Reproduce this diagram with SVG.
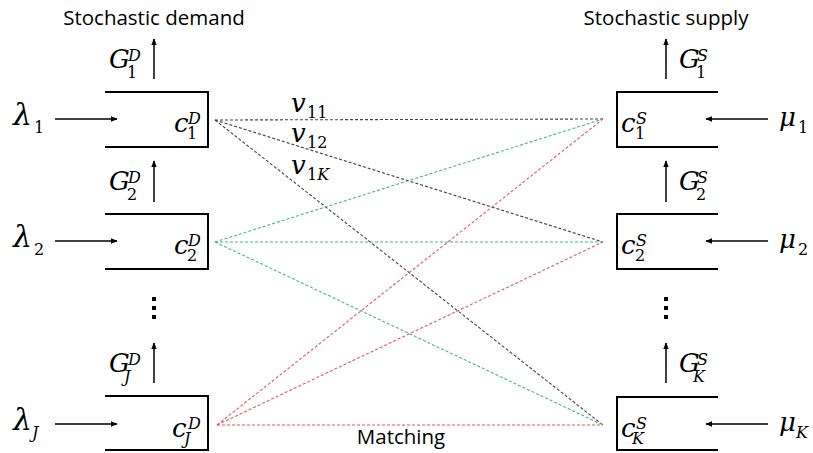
<svg xmlns="http://www.w3.org/2000/svg" width="813" height="453" viewBox="0 0 813 453">
<defs>
<marker id="ah" viewBox="0 0 10 10" refX="9" refY="5" markerWidth="7" markerHeight="7" markerUnits="userSpaceOnUse" orient="auto">
<path d="M0,1 L10,5 L0,9 Z" fill="#000"/>
</marker>
<style>
.box{fill:none;stroke:#000;stroke-width:2}
.arr{stroke:#000;stroke-width:1.5;fill:none;marker-end:url(#ah)}
.m{font-family:"DejaVu Serif","Liberation Serif",serif;font-style:italic;font-size:26px;fill:#000}
.l{font-size:30px}
.n{font-family:"DejaVu Serif","Liberation Serif",serif;font-style:normal;font-size:16px;fill:#000}
.s{font-family:"DejaVu Serif","Liberation Serif",serif;font-style:italic;font-size:16px;fill:#000}
.t{font-family:"Open Sans","Liberation Sans",sans-serif;font-size:20.5px;fill:#000}
.dash{fill:none;stroke-width:1.1;stroke-dasharray:3 2}
.k{stroke:#444}
.g{stroke:#3fb884}
.r{stroke:#e05a5a}
.dot{fill:#000}
</style>
</defs>

<text class="t" x="154" y="25" text-anchor="middle">Stochastic demand</text>
<text class="t" x="666" y="25" text-anchor="middle">Stochastic supply</text>

<g id="connectors">
<line class="dash k" x1="215" y1="120" x2="603" y2="119"/>
<line class="dash k" x1="215" y1="120" x2="603" y2="242"/>
<line class="dash k" x1="215" y1="120" x2="603" y2="425"/>
<line class="dash g" x1="215" y1="242" x2="603" y2="119"/>
<line class="dash g" x1="215" y1="242" x2="603" y2="242"/>
<line class="dash g" x1="215" y1="242" x2="603" y2="425"/>
<line class="dash r" x1="217" y1="425" x2="603" y2="119"/>
<line class="dash r" x1="217" y1="425" x2="603" y2="242"/>
<line class="dash r" x1="217" y1="425" x2="603" y2="425"/>
<text class="m" x="291" y="112">v</text><text class="n" x="307" y="118">11</text>
<text class="m" x="291" y="142">v</text><text class="n" x="307" y="148">12</text>
<text class="m" x="291" y="174">v</text><text class="n" x="307" y="180">1<tspan class="s">K</tspan></text>
<text class="t" x="401" y="444" text-anchor="middle">Matching</text>
</g>

<g id="demand1">
<path class="box" d="M105,92 H208 V147 H105"/>
<line class="arr" x1="55" y1="119" x2="117" y2="119"/>
<line class="arr" x1="154" y1="79" x2="154" y2="39"/>
<text class="m l" x="13" y="125">λ</text><text class="n" x="34" y="133">1</text>
<text class="m" x="109" y="68">G</text><text class="s" x="128" y="61">D</text><text class="n" x="127" y="78">1</text>
<text class="m" x="174" y="132">c</text><text class="s" x="188" y="124">D</text><text class="n" x="187" y="139">1</text>
</g>

<g id="demand2">
<path class="box" d="M105,214 H208 V269 H105"/>
<line class="arr" x1="55" y1="241" x2="117" y2="241"/>
<line class="arr" x1="154" y1="202" x2="154" y2="161"/>
<text class="m l" x="13" y="247">λ</text><text class="n" x="34" y="255">2</text>
<text class="m" x="109" y="190">G</text><text class="s" x="128" y="183">D</text><text class="n" x="127" y="200">2</text>
<text class="m" x="174" y="254">c</text><text class="s" x="188" y="246">D</text><text class="n" x="187" y="261">2</text>
</g>

<g id="demandDots">
<rect class="dot" x="152" y="297" width="4" height="4"/>
<rect class="dot" x="152" y="306" width="4" height="4"/>
<rect class="dot" x="152" y="315" width="4" height="4"/>
</g>

<g id="demandJ">
<path class="box" d="M105,396 H208 V450 H105"/>
<line class="arr" x1="55" y1="424" x2="117" y2="424"/>
<line class="arr" x1="154" y1="383" x2="154" y2="343"/>
<text class="m l" x="13" y="430">λ</text><text class="s" x="32" y="438">J</text>
<text class="m" x="109" y="372">G</text><text class="s" x="128" y="365">D</text><text class="s" x="124" y="382">J</text>
<text class="m" x="172" y="437">c</text><text class="s" x="188" y="429">D</text><text class="s" x="184" y="444">J</text>
</g>

<g id="supply1">
<path class="box" d="M718,92 H617 V147 H718"/>
<line class="arr" x1="768" y1="119" x2="706" y2="119"/>
<line class="arr" x1="666" y1="79" x2="666" y2="39"/>
<text class="m" x="779" y="126">μ</text><text class="n" x="798" y="133">1</text>
<text class="m" x="679" y="68">G</text><text class="s" x="697" y="61">S</text><text class="n" x="696" y="78">1</text>
<text class="m" x="621" y="132">c</text><text class="s" x="636" y="124">S</text><text class="n" x="635" y="139">1</text>
</g>

<g id="supply2">
<path class="box" d="M718,214 H617 V269 H718"/>
<line class="arr" x1="768" y1="241" x2="706" y2="241"/>
<line class="arr" x1="666" y1="202" x2="666" y2="161"/>
<text class="m" x="779" y="248">μ</text><text class="n" x="798" y="255">2</text>
<text class="m" x="679" y="190">G</text><text class="s" x="697" y="183">S</text><text class="n" x="696" y="200">2</text>
<text class="m" x="621" y="254">c</text><text class="s" x="636" y="246">S</text><text class="n" x="635" y="261">2</text>
</g>

<g id="supplyDots">
<rect class="dot" x="664" y="297" width="4" height="4"/>
<rect class="dot" x="664" y="306" width="4" height="4"/>
<rect class="dot" x="664" y="315" width="4" height="4"/>
</g>

<g id="supplyK">
<path class="box" d="M718,397 H617 V450 H718"/>
<line class="arr" x1="768" y1="424" x2="706" y2="424"/>
<line class="arr" x1="666" y1="383" x2="666" y2="343"/>
<text class="m" x="779" y="431">μ</text><text class="s" x="796" y="438">K</text>
<text class="m" x="679" y="372">G</text><text class="s" x="697" y="365">S</text><text class="s" x="693" y="382">K</text>
<text class="m" x="621" y="437">c</text><text class="s" x="636" y="429">S</text><text class="s" x="632" y="444">K</text>
</g>
</svg>
